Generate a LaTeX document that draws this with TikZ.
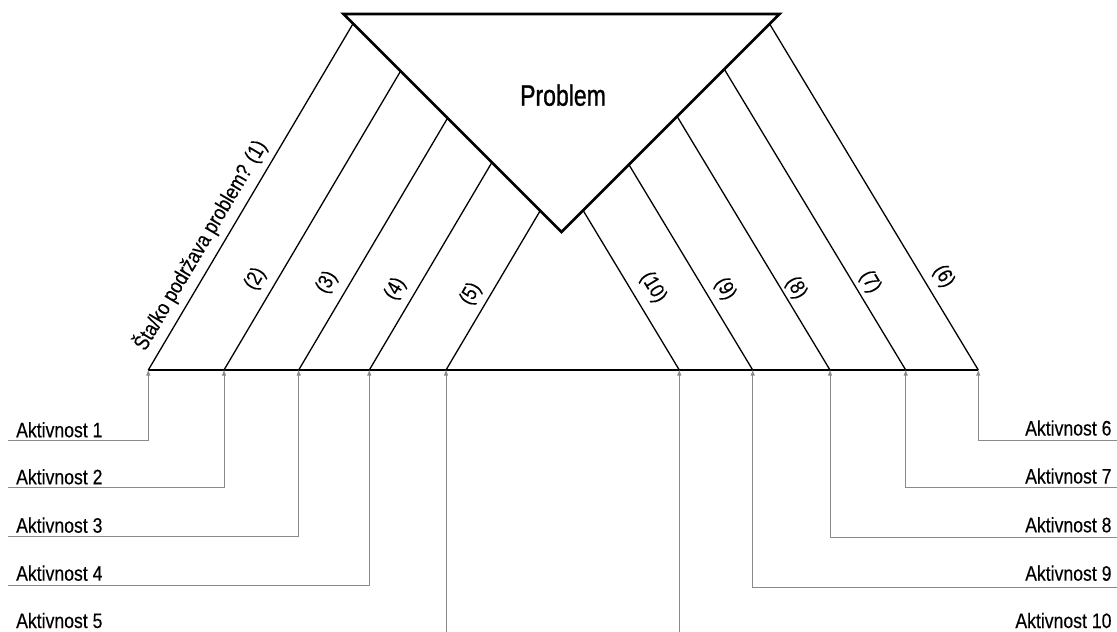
\documentclass[tikz,border=0pt]{standalone}
\usepackage{fontspec}
\setmainfont{Liberation Sans}[FakeStretch=0.84, FakeBold=0.3]
\newfontfamily\probfont{Liberation Sans}[FakeStretch=0.78, FakeBold=1]
\usetikzlibrary{arrows.meta}
\definecolor{arrgray}{HTML}{8A8A8A}
\begin{document}
\begin{tikzpicture}[x=1pt,y=-1pt,
  tri/.style={line width=2.7pt, line join=miter},
  bone/.style={line width=1.3pt},
  baseln/.style={line width=1.5pt},
  arr/.style={draw=arrgray, line width=1pt, -{Latex[length=6pt,width=4.5pt]}, shorten >=-0.5pt},
  lab/.style={font=\fontsize{21}{24}\selectfont, inner sep=0pt},
  num/.style={font=\fontsize{21}{24}\selectfont, inner sep=0pt},
  prob/.style={font=\probfont\fontsize{29.5}{32}\selectfont, inner sep=0pt}]
\useasboundingbox (0,0) rectangle (1117,632);
% triangle
\coordinate (TL) at (343.5,14);
\coordinate (TR) at (779.5,14);
\coordinate (AP) at (561.5,232);
\draw[tri] (TL) -- (TR) -- (AP) -- cycle;
\node[prob, anchor=base] (problem) at (563,105.7) {Problem};
% baseline points
\coordinate (b1) at (148.3,370);
\coordinate (b2) at (224,370);
\coordinate (b3) at (298.7,370);
\coordinate (b4) at (369.3,370);
\coordinate (b5) at (446,370);
\coordinate (b10) at (679.3,370);
\coordinate (b9) at (752.7,370);
\coordinate (b8) at (830,370);
\coordinate (b7) at (905.7,370);
\coordinate (b6) at (978.3,370);
% tops on triangle edges
\coordinate (t1) at (353.1,23.6);
\coordinate (t2) at (400.6,71.1);
\coordinate (t3) at (447.6,118.1);
\coordinate (t4) at (491.9,162.4);
\coordinate (t5) at (540.2,210.7);
\coordinate (t6) at (769.6,23.9);
\coordinate (t7) at (724.3,69.2);
\coordinate (t8) at (677.1,116.4);
\coordinate (t9) at (628.9,164.6);
\coordinate (t10) at (583.1,210.4);
\draw[baseln] (b1) -- (b6);
\foreach \i in {1,...,10} {\draw[bone] (b\i) -- (t\i);}
% line labels
\node[num, rotate=59.4, font=\fontsize{21.5}{24}\selectfont] (L1) at (200,245) {Šta/ko podržava problem? (1)};
\node[num, rotate=59.4] (L2) at (255.5,279) {(2)};
\node[num, rotate=59.4] (L3) at (327,282.5) {(3)};
\node[num, rotate=59.4] (L4) at (395.5,289) {(4)};
\node[num, rotate=59.4] (L5) at (471,294) {(5)};
\node[num, rotate=-58.9] (L10) at (653,287.5) {(10)};
\node[num, rotate=-58.9] (L9) at (725,289) {(9)};
\node[num, rotate=-58.9] (L8) at (796,288) {(8)};
\node[num, rotate=-58.9] (L7) at (870,282) {(7)};
\node[num, rotate=-58.9] (L6) at (943.5,276.5) {(6)};
% activity labels
\node[lab, anchor=base west] (a1) at (16,437.3) {Aktivnost 1};
\node[lab, anchor=base west] (a2) at (16,484.3) {Aktivnost 2};
\node[lab, anchor=base west] (a3) at (16,532.7) {Aktivnost 3};
\node[lab, anchor=base west] (a4) at (16,580.7) {Aktivnost 4};
\node[lab, anchor=base west] (a5) at (16,628) {Aktivnost 5};
\node[lab, anchor=base east] (a6) at (1111.7,435.5) {Aktivnost 6};
\node[lab, anchor=base east] (a7) at (1111.7,483.5) {Aktivnost 7};
\node[lab, anchor=base east] (a8) at (1111.7,532.3) {Aktivnost 8};
\node[lab, anchor=base east] (a9) at (1111.7,580.7) {Aktivnost 9};
\node[lab, anchor=base east] (a10) at (1111.7,628) {Aktivnost 10};
% arrow start points
\coordinate (s1) at (8,440);
\coordinate (s2) at (8,487.5);
\coordinate (s3) at (8,536.7);
\coordinate (s4) at (8,585.3);
\coordinate (s5) at (446,632);
\coordinate (s6) at (1117,440);
\coordinate (s7) at (1117,487.7);
\coordinate (s8) at (1117,537.3);
\coordinate (s9) at (1117,587.7);
\coordinate (s10) at (679.3,632);
\foreach \i in {1,2,3,4,6,7,8,9} {\draw[arr] (s\i) -| (b\i);}
\draw[arr] (s5) -- (b5);
\draw[arr] (s10) -- (b10);
\end{tikzpicture}
\end{document}
